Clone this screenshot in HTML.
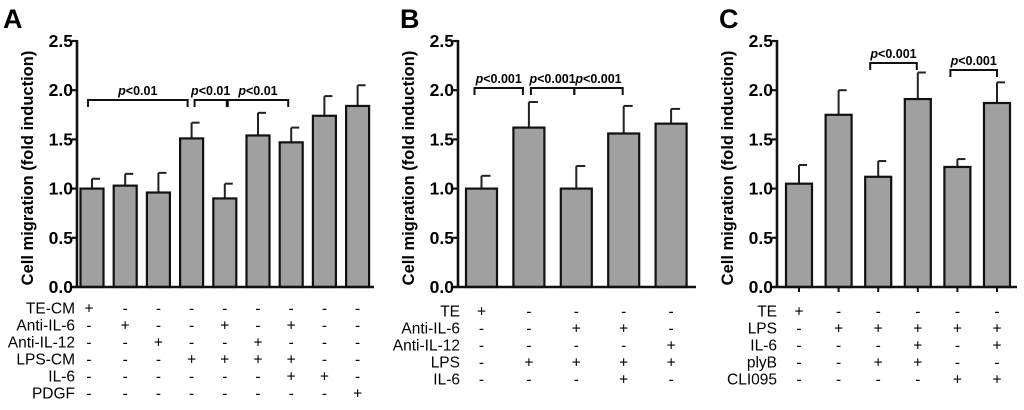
<!DOCTYPE html>
<html><head><meta charset="utf-8"><style>
body{margin:0;background:#fff}
svg{display:block;font-family:"Liberation Sans",Arial,sans-serif}
</style></head><body>
<svg id="c" width="1024" height="410" viewBox="0 0 1024 410"></svg>
<script>
const valuesA=[1.0,1.03,0.96,1.51,0.9,1.54,1.47,1.74,1.84];
const errorsA=[0.1,0.12,0.2,0.16,0.15,0.23,0.15,0.2,0.21];
const valuesB=[1.0,1.62,1.0,1.56,1.66];
const errorsB=[0.13,0.26,0.23,0.28,0.15];
const valuesC=[1.05,1.75,1.12,1.91,1.22,1.87];
const errorsC=[0.19,0.25,0.16,0.27,0.08,0.21];
const tickLabels=["0.0","0.5","1.0","1.5","2.0","2.5"];
const tickValues=[0,0.5,1,1.5,2,2.5];
const rowsA=["TE-CM","Anti-IL-6","Anti-IL-12","LPS-CM","IL-6","PDGF"];
const signsA=["+--------","-+--+-+--","--+--+---","---++++--","------++-","--------+"];
const rowsB=["TE","Anti-IL-6","Anti-IL-12","LPS","IL-6"];
const signsB=["+----","--++-","----+","-++++","---+-"];
const rowsC=["TE","LPS","IL-6","plyB","CLI095"];
const signsC=["+-----","-+++++","---+-+","--++--","----++"];
const bracketsA=[[0,3,"p<0.01"],[3,4,"p<0.01"],[4,6,"p<0.01"]];
const bracketsB=[[0,1,"p<0.001"],[1,2,"p<0.001"],[2,3,"p<0.001"]];
const bracketsC=[[2,3,"p<0.001"],[4,5,"p<0.001"]];

const svg=document.getElementById('c');
const NS="http://www.w3.org/2000/svg";
function mk(tag,attrs,text){const e=document.createElementNS(NS,tag);for(const k in attrs)e.setAttribute(k,attrs[k]);if(text!==undefined)e.textContent=text;svg.appendChild(e);return e;}

function panel(p){
  const y=v=>p.y0-(v/2.5)*(p.y0-p.yTop);
  const x=i=>p.x0+i*p.step;
  let e=mk('text',{x:p.letterX,y:28,'font-size':27,'font-weight':'bold'},p.letter);
  
  
  const cy=(p.y0+p.yTop)/2+4;
  e=mk('text',{x:0,y:0,'font-size':16.5,'font-weight':'bold','text-anchor':'middle',transform:`translate(${p.axisX-44},${cy}) rotate(-90)`},'Cell migration (fold induction)');
  
  
  p.values.forEach((v,i)=>{
    const cx=x(i);
    let l=mk('line',{x1:cx,x2:cx,y1:y(v),y2:y(v+p.errors[i]),stroke:'#222','stroke-width':2});
    
    
    l=mk('line',{x1:cx,x2:cx+p.cap,y1:y(v+p.errors[i]),y2:y(v+p.errors[i]),stroke:'#222','stroke-width':2});
    
    
    const r=mk('rect',{x:cx-p.bw/2,y:y(v),width:p.bw,height:p.y0-y(v),fill:'#a0a0a0',stroke:'#111','stroke-width':2.2});
    
    
    if(p.xticks){const t=mk('line',{x1:cx,x2:cx,y1:p.y0,y2:p.y0+5,stroke:'#111','stroke-width':2});
      
      }
  });
  let a=mk('line',{x1:p.axisX,x2:p.axisX,y1:p.yTop-1,y2:p.y0+1,stroke:'#111','stroke-width':2.6});
  
  
  a=mk('line',{x1:p.axisX-4,x2:p.xEnd,y1:p.y0,y2:p.y0,stroke:'#111','stroke-width':2.6});
  
  
  tickValues.forEach((tv,i)=>{
    const t=mk('line',{x1:p.axisX-5,x2:p.axisX,y1:y(tv),y2:y(tv),stroke:'#111','stroke-width':2.2});
    
    
    const tl=mk('text',{x:p.axisX-4,y:y(tv)+6,'font-size':17.5,'font-weight':'bold','text-anchor':'end'},tickLabels[i]);
    
    
  });
  p.brackets.forEach((b,k)=>{
    const x1=x(b[0])-p.bInset[k][0],x2=x(b[1])+p.bInset[k][1],by=p.bY[k];
    const pl=mk('polyline',{points:`${x1},${by+7} ${x1},${by} ${x2},${by} ${x2},${by+7}`,fill:'none',stroke:'#111','stroke-width':2});
    
    
    const t=mk('text',{x:(x1+x2)/2,y:by-5,'font-size':12.5,'font-weight':'bold','text-anchor':'middle'});
    
    
    const ts=document.createElementNS(NS,'tspan');ts.setAttribute('font-style','italic');ts.textContent='p';t.appendChild(ts);
    t.appendChild(document.createTextNode(b[2].slice(1)));
  });
  p.rows.forEach((r,j)=>{
    const ry=p.rowY0+j*p.rowStep;
    const t=mk('text',{x:p.labelX,y:ry+5.5,'font-size':15.5,'text-anchor':'end'},r);
    
    
    p.signs[j].split('').forEach((s,i)=>{
      const st=mk('text',{x:x(i)-(i===0?p.firstShift:0),y:ry+5.5,'font-size':15.5,'text-anchor':'middle'},s);
      
      
    });
  });
}
panel({letter:'A',letterX:3,values:valuesA,errors:errorsA,x0:92,step:33.2,bw:23,cap:8,y0:287,yTop:41,axisX:77,xEnd:374,
  brackets:bracketsA,bY:[100,100,100],bInset:[[4,-4],[-3,2],[-3,-3]],rows:rowsA,signs:signsA,rowY0:308,rowStep:17,labelX:75,firstShift:3,xticks:false});
panel({letter:'B',letterX:400,values:valuesB,errors:errorsB,x0:481.5,step:47.4,bw:31,cap:9,y0:287,yTop:41,axisX:458,xEnd:696,
  brackets:bracketsB,bY:[88,88,88],bInset:[[7,-6],[-2,-2],[2,-1]],rows:rowsB,signs:signsB,rowY0:311,rowStep:17,labelX:460,firstShift:0,xticks:false});
panel({letter:'C',letterX:719,values:valuesC,errors:errorsC,x0:799,step:39.6,bw:26,cap:8,y0:287,yTop:41,axisX:777,xEnd:1017,
  brackets:bracketsC,bY:[63,70],bInset:[[8,-1],[7,0]],rows:rowsC,signs:signsC,rowY0:311,rowStep:17,labelX:777,firstShift:0,xticks:true});
</script>
</body></html>
